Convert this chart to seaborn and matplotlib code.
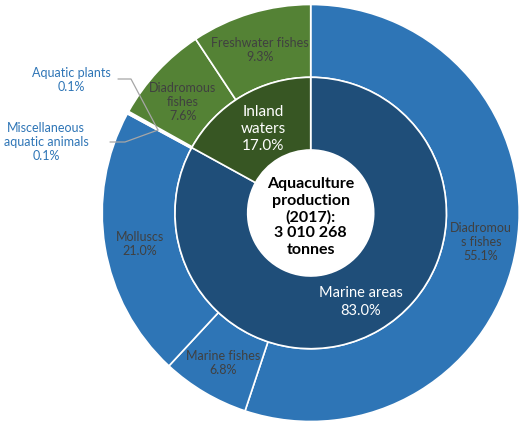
import matplotlib
matplotlib.use("Agg")
import matplotlib.pyplot as plt
import seaborn as sns

sns.set_style("white")
plt.rcParams["font.family"] = ["Lato", "DejaVu Sans"]

# Inner ring: production environment
area_labels = ["Marine areas", "Inland waters"]
area_values = [83.0, 17.0]

# Outer ring: species groups, clockwise from 12 o'clock
group_labels = ["Diadromous fishes", "Marine fishes", "Molluscs",
                "Miscellaneous aquatic animals", "Aquatic plants",
                "Diadromous fishes", "Freshwater fishes"]
group_values = [55.1, 6.8, 21.0, 0.1, 0.1, 7.6, 9.3]
group_area = ["Marine", "Marine", "Marine", "Marine", "Marine", "Inland", "Inland"]

total_text = "Aquaculture\nproduction\n(2017):\n3 010 268\ntonnes"

blue, dark_blue = "#2E75B6", "#1F4E79"
green, dark_green = "#548235", "#375623"
label_grey = "#404040"

W, H = 524, 424
fig = plt.figure(figsize=(W / 100, H / 100), dpi=100)
ax = fig.add_axes([0, 0, 1, 1])
ax.set_xlim(0, W)
ax.set_ylim(0, H)
ax.set_aspect("equal")
ax.axis("off")

def py(y):
    return H - y

cx, cy = 310.7, py(213)
r_out, r_mid, r_hole = 208.5, 135.7, 63.0

outer_colors = [blue if a == "Marine" else green for a in group_area]
ax.pie(group_values, radius=r_out, center=(cx, cy), startangle=90,
       counterclock=False, colors=outer_colors,
       wedgeprops=dict(width=r_out - r_mid, edgecolor="white", linewidth=1.2))
ax.pie(area_values, radius=r_mid, center=(cx, cy), startangle=90,
       counterclock=False, colors=[dark_blue, dark_green],
       wedgeprops=dict(width=r_mid - r_hole, edgecolor="white", linewidth=1.2))
ax.set_xlim(0, W)
ax.set_ylim(0, H)

fs = 9
ls = 1.25

def pct(v):
    return f"{v:.1f}%"

# Outer ring labels
ax.text(260, py(50), f"Freshwater fishes\n{pct(group_values[6])}", ha="center", va="center",
        fontsize=fs, color=label_grey, linespacing=ls)
ax.text(183, py(102), f"Diadromous\nfishes\n{pct(group_values[5])}", ha="center", va="center",
        fontsize=fs, color=label_grey, linespacing=ls)
ax.text(481, py(242), f"Diadromou\ns fishes\n{pct(group_values[0])}", ha="center", va="center",
        fontsize=fs, color=label_grey, linespacing=ls)
ax.text(140, py(244), f"Molluscs\n{pct(group_values[2])}", ha="center", va="center",
        fontsize=fs, color=label_grey, linespacing=ls)
ax.text(223, py(363), f"Marine fishes\n{pct(group_values[1])}", ha="center", va="center",
        fontsize=fs, color=label_grey, linespacing=ls)

# Tiny slices labelled outside with leader lines
ax.text(71, py(80), f"Aquatic plants\n{pct(group_values[4])}", ha="center", va="center",
        fontsize=fs, color=blue, linespacing=ls)
ax.text(46, py(142), f"Miscellaneous\naquatic animals\n{pct(group_values[3])}", ha="center",
        va="center", fontsize=fs, color=blue, linespacing=ls)
lc = "#A6A6A6"
ax.plot([118, 131, 158], [py(79), py(79), py(130)], color=lc, lw=0.9)
ax.plot([110, 125, 158], [py(142), py(142), py(130)], color=lc, lw=0.9)

# Inner ring labels
ax.text(361, py(302), f"Marine areas\n{pct(area_values[0])}", ha="center", va="center",
        fontsize=10.5, color="white", linespacing=1.3)
ax.text(263, py(129), f"Inland\nwaters\n{pct(area_values[1])}", ha="center", va="center",
        fontsize=11, color="white", linespacing=1.25)

# Centre total
ax.text(cx, py(217), total_text, ha="center", va="center", fontsize=11.5,
        fontweight="bold", color="black", linespacing=1.2)

fig.savefig("out.png", dpi=100)
